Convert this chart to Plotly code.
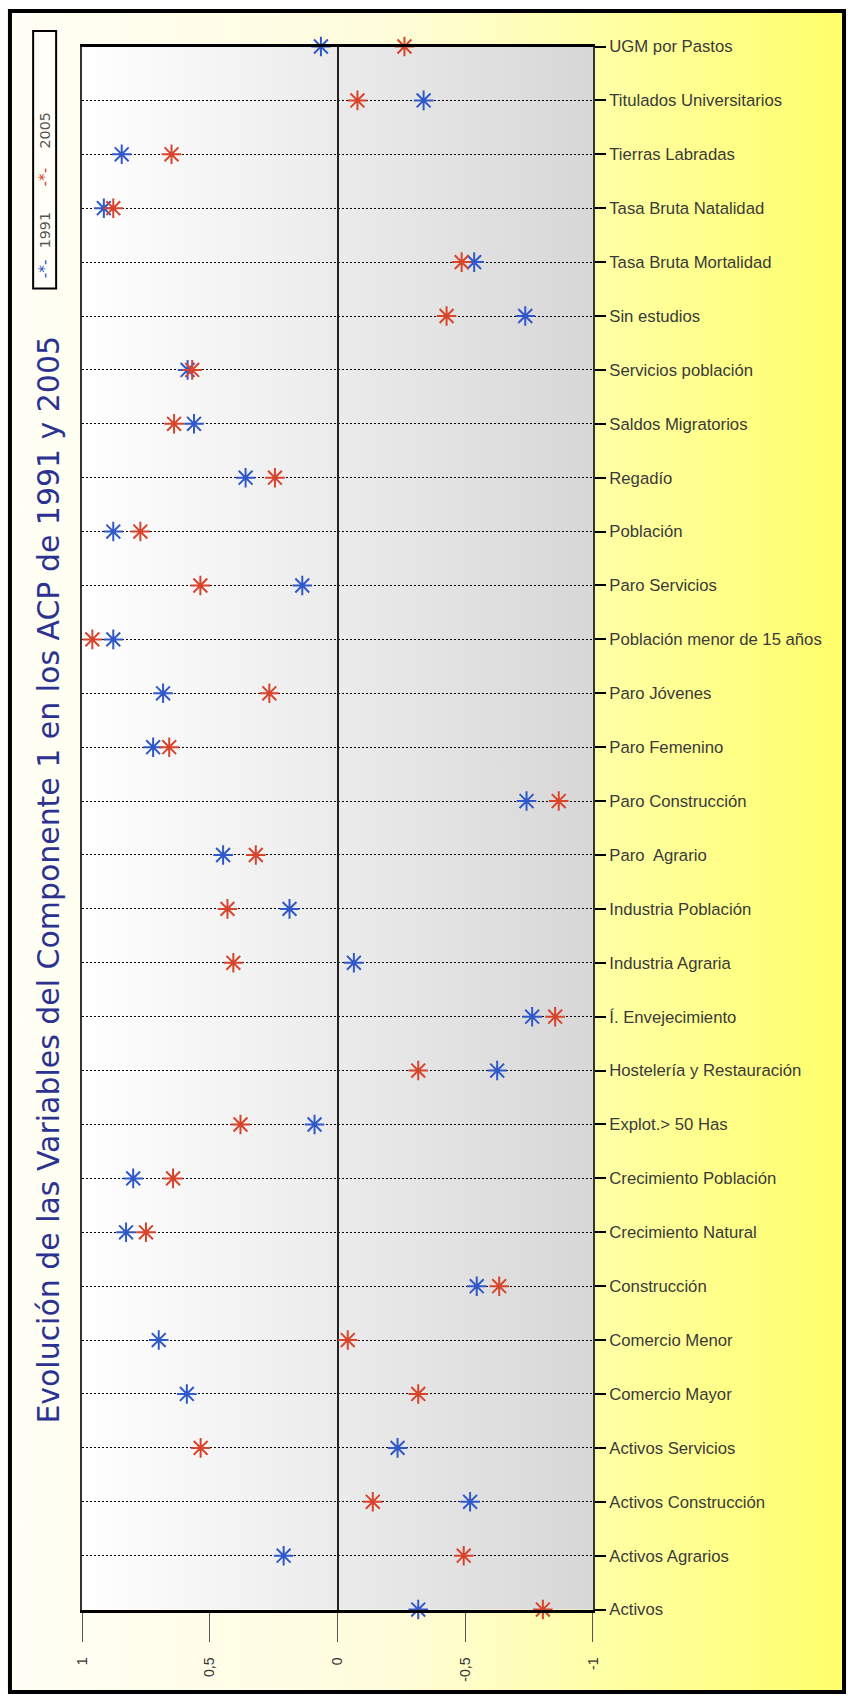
import plotly.graph_objects as go

## data (component 1 loadings) ##
categories = ["UGM por Pastos", "Titulados Universitarios", "Tierras Labradas",
              "Tasa Bruta Natalidad", "Tasa Bruta Mortalidad", "Sin estudios",
              "Servicios población", "Saldos Migratorios", "Regadío", "Población",
              "Paro Servicios", "Población menor de 15 años", "Paro Jóvenes",
              "Paro Femenino", "Paro Construcción", "Paro  Agrario", "Industria Población",
              "Industria Agraria", "Í. Envejecimiento", "Hostelería y Restauración",
              "Explot.> 50 Has", "Crecimiento Población", "Crecimiento Natural",
              "Construcción", "Comercio Menor", "Comercio Mayor", "Activos Servicios",
              "Activos Construcción", "Activos Agrarios", "Activos"]
val_1991 = [0.065, -0.337, 0.845, 0.915, -0.535, -0.735, 0.587, 0.562, 0.360, 0.878,
            0.138, 0.878, 0.683, 0.722, -0.740, 0.448, 0.188, -0.064, -0.762, -0.625,
            0.090, 0.800, 0.828, -0.545, 0.700, 0.590, -0.235, -0.519, 0.211, -0.316]
val_2005 = [-0.262, -0.078, 0.650, 0.878, -0.486, -0.427, 0.569, 0.640, 0.245, 0.772,
            0.537, 0.960, 0.267, 0.659, -0.866, 0.320, 0.431, 0.408, -0.852, -0.316,
            0.380, 0.644, 0.750, -0.633, -0.040, -0.316, 0.536, -0.138, -0.494, -0.804]
years = ["1991", "2005"]
tick_vals = [1, 0.5, 0, -0.5, -1]
tick_text = ["1", "0,5", "0", "-0,5", "-1"]

BLUE = "#2f58c8"
RED = "#d8432c"

# the photo shows the page with an 8px border and squeezes it back to 854x1704,
# so positions taken from the reference are mapped back onto the page
W, H, PAD = 854, 1704, 8
SX, SY = W / (W + 2 * PAD), H / (H + 2 * PAD)
K = 1 / SX  # size compensation


def px(x):  # reference pixel -> paper x
    return (x / SX - PAD) / W


def py(y):  # reference pixel (from top) -> paper y
    return 1 - (y / SY - PAD) / H


X_DOM = [px(82), px(593)]
Y_DOM = [py(1611.5), py(45.5)]

fig = go.Figure()

## background: page gradient + plot area gradient on a hidden full-page subplot ##
fig.add_trace(go.Scatter(x=[0, 1, 1, 0, 0], y=[0, 0, 1, 1, 0], xaxis="x", yaxis="y",
                         mode="none", fill="toself", hoverinfo="skip", showlegend=False,
                         fillgradient=dict(type="horizontal",
                                           colorscale=[[0, "#fffff6"], [0.45, "#fffcdc"],
                                                       [0.72, "#ffffa4"], [1, "#ffff6a"]])))
fig.add_trace(go.Scatter(x=[X_DOM[0], X_DOM[1], X_DOM[1], X_DOM[0], X_DOM[0]],
                         y=[Y_DOM[0], Y_DOM[0], Y_DOM[1], Y_DOM[1], Y_DOM[0]],
                         xaxis="x", yaxis="y", mode="none", fill="toself",
                         hoverinfo="skip", showlegend=False,
                         fillgradient=dict(type="horizontal",
                                           colorscale=[[0, "#ffffff"], [1, "#d7d7d7"]])))

## markers ##
for name, vals, col in zip(years, [val_1991, val_2005], [BLUE, RED]):
    fig.add_trace(go.Scatter(x=vals, y=categories, xaxis="x2", yaxis="y2", mode="markers",
                             name=name, cliponaxis=False,
                             marker=dict(symbol="asterisk-open", size=16 * K, color=col,
                                         line=dict(color=col, width=2))))

fig.update_layout(
    width=W, height=H, margin=dict(l=0, r=0, t=0, b=0),
    paper_bgcolor="white", plot_bgcolor="rgba(0,0,0,0)",
    showlegend=False, hovermode=False,
    font=dict(family="Liberation Sans, Arial, sans-serif", color="#333333"),
    xaxis=dict(domain=[0, 1], range=[0, 1], visible=False, fixedrange=True),
    yaxis=dict(domain=[0, 1], range=[0, 1], visible=False, fixedrange=True),
    xaxis2=dict(domain=X_DOM, anchor="y2", range=[1, -1], tickmode="array",
                tickvals=tick_vals, ticktext=tick_text, ticks="outside", ticklen=29,
                tickcolor="#555555", tickwidth=1, tickangle=-90, ticklabelstandoff=10,
                showgrid=False, zeroline=True, zerolinecolor="#222222", zerolinewidth=2,
                showline=True, linecolor="black", linewidth=3, mirror=True,
                tickfont=dict(size=14 * K, color="#333333")),
    yaxis2=dict(domain=Y_DOM, anchor="x2", side="right", type="category",
                categoryorder="array", categoryarray=categories,
                range=[len(categories) - 1, 0], showgrid=True, gridcolor="black",
                griddash="2px,2px", gridwidth=1, ticks="outside", ticklen=11,
                tickcolor="black", tickwidth=1.5, showline=True, linecolor="#333333",
                linewidth=2, mirror=True, zeroline=False,
                tickfont=dict(size=16.4 * K, color="#3a3a3a",
                              family="Liberation Sans Narrow, Arial Narrow, Liberation Sans, sans-serif")),
)

## title, rotated ##
fig.add_annotation(xref="paper", yref="paper", x=px(48), y=py(880), showarrow=False,
                   xanchor="center", yanchor="middle", textangle=-90,
                   text="Evolución de las Variables del Componente 1 en los ACP de 1991 y 2005",
                   font=dict(size=29.4 * K, color="#2c3290", family="DejaVu Sans, Verdana, sans-serif"))

## rotated legend ##
fig.add_shape(type="rect", xref="paper", yref="paper", x0=px(33), x1=px(56),
              y0=py(288), y1=py(30), line=dict(color="black", width=2),
              fillcolor="rgba(255,255,255,0.35)")
legend_items = [("-*-", BLUE, 268, 15), (years[0], "#555555", 230, 14),
                ("-*-", RED, 176, 15), (years[1], "#555555", 130, 14)]
for txt, col, ypx, fs in legend_items:
    fig.add_annotation(xref="paper", yref="paper", x=px(44.5), y=py(ypx), showarrow=False,
                       xanchor="center", yanchor="middle", textangle=-90, text=txt,
                       font=dict(size=fs * K, color=col, family="DejaVu Sans, sans-serif"))

## outer frame on the figure edge ##
fig.add_shape(type="rect", xref="paper", yref="paper", x0=2 / W, x1=1 - 2 / W,
              y0=2 / H, y1=1 - 2 / H, line=dict(color="black", width=4))

# drop the body margin
reset = """
var el = document.getElementById('{plot_id}');
while (el) { el.style.margin = '0'; el.style.padding = '0'; el = el.parentElement; }
document.documentElement.style.overflow = 'hidden';
"""
fig.write_html("out.html", config={"displayModeBar": False}, post_script=reset)
